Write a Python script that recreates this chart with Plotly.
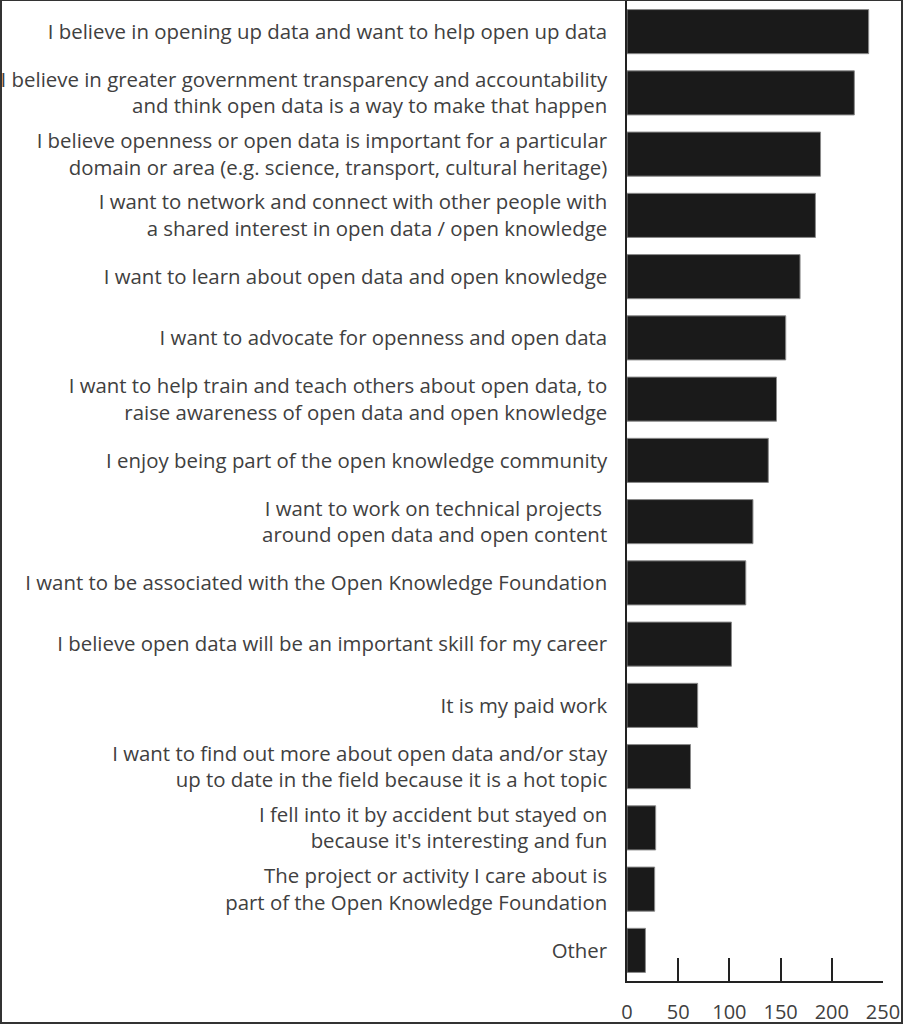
import plotly.graph_objects as go

categories = [
    "I believe in opening up data and want to help open up data",
    "I believe in greater government transparency and accountability<br>and think open data is a way to make that happen",
    "I believe openness or open data is important for a particular<br>domain or area (e.g. science, transport, cultural heritage)",
    "I want to network and connect with other people with<br>a shared interest in open data / open knowledge",
    "I want to learn about open data and open knowledge",
    "I want to advocate for openness and open data",
    "I want to help train and teach others about open data, to<br>raise awareness of open data and open knowledge",
    "I enjoy being part of the open knowledge community",
    "I want to work on technical projects <br>around open data and open content",
    "I want to be associated with the Open Knowledge Foundation",
    "I believe open data will be an important skill for my career",
    "It is my paid work",
    "I want to find out more about open data and/or stay<br>up to date in the field because it is a hot topic",
    "I fell into it by accident but stayed on<br>because it's interesting and fun",
    "The project or activity I care about is<br>part of the Open Knowledge Foundation",
    "Other",
]
values = [236, 222, 189, 184, 169, 155, 146, 138, 123, 116, 102, 69, 62, 28, 27, 18]
tick_vals = [0, 50, 100, 150, 200, 250]

W, H = 903, 1024
L, R, T, B = 627, 20, 1, 43

fig = go.Figure(go.Bar(
    x=values, y=categories, orientation="h",
    marker=dict(color="#1a1a1a", line=dict(color="#8a8a8a", width=1)),
    width=0.72,
))

fig.update_layout(
    width=W, height=H,
    margin=dict(l=L, r=R, t=T, b=B, autoexpand=False),
    paper_bgcolor="white", plot_bgcolor="white",
    font=dict(family="Open Sans", size=20.4, color="#404040"),
    showlegend=False,
    xaxis=dict(
        range=[0, 250], tickvals=tick_vals, ticktext=[str(v) for v in tick_vals],
        ticks="inside", ticklen=23, tickwidth=1.5, tickcolor="#222",
        showline=True, linecolor="#222", linewidth=1.5,
        showgrid=False, zeroline=False, ticklabelstandoff=12,
        tickfont=dict(size=20, color="#404040"),
    ),
    yaxis=dict(
        autorange="reversed", showgrid=False, zeroline=False,
        showline=True, linecolor="#222", linewidth=1.5,
        ticks="", ticklabelstandoff=14,
        tickfont=dict(size=20.4, color="#404040"),
    ),
)

pw = W - L - R
ph = H - T - B
fig.add_shape(type="rect", xref="paper", yref="paper",
              x0=(1 - L) / pw, x1=(W - L - 1) / pw,
              y0=-(B - 1) / ph, y1=1 + (T - 0.0) / ph,
              line=dict(color="#333", width=2), layer="above")
fig.add_shape(type="line", xref="x", yref="paper", x0=0, x1=0, y0=1, y1=1 + T / ph,
              line=dict(color="#222", width=1.5))

fig.write_html("out.html", config={"displayModeBar": False},
               post_script="document.body.style.margin='0';document.body.style.overflow='hidden';")
